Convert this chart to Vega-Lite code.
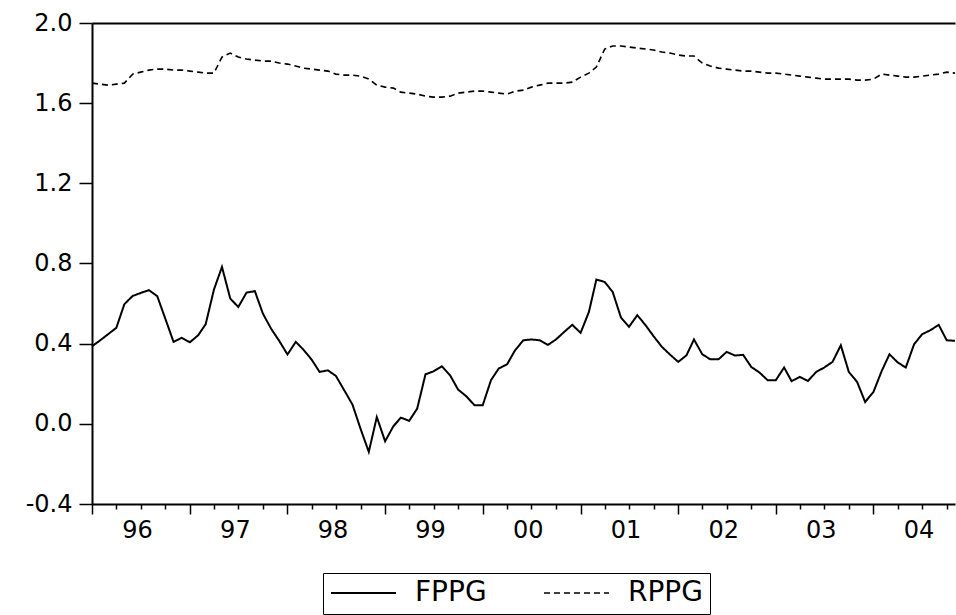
{
  "$schema": "https://vega.github.io/schema/vega-lite/v6.json",
  "autosize": {"type": "none"},
  "padding": {"left": 92, "top": 23, "right": 1, "bottom": 111},
  "width": 863,
  "height": 481,
  "background": "white",
  "config": {"view": {"stroke": null}},
  "data": {"values": [
    {"date": "1996-01", "FPPG": 0.387, "RPPG": 1.70},
    {"date": "1996-02", "FPPG": 0.417, "RPPG": 1.695},
    {"date": "1996-03", "FPPG": 0.447, "RPPG": 1.69},
    {"date": "1996-04", "FPPG": 0.479, "RPPG": 1.695},
    {"date": "1996-05", "FPPG": 0.597, "RPPG": 1.70},
    {"date": "1996-06", "FPPG": 0.638, "RPPG": 1.745},
    {"date": "1996-07", "FPPG": 0.653, "RPPG": 1.755},
    {"date": "1996-08", "FPPG": 0.667, "RPPG": 1.765},
    {"date": "1996-09", "FPPG": 0.637, "RPPG": 1.77},
    {"date": "1996-10", "FPPG": 0.525, "RPPG": 1.77},
    {"date": "1996-11", "FPPG": 0.409, "RPPG": 1.765},
    {"date": "1996-12", "FPPG": 0.429, "RPPG": 1.765},
    {"date": "1997-01", "FPPG": 0.407, "RPPG": 1.76},
    {"date": "1997-02", "FPPG": 0.442, "RPPG": 1.755},
    {"date": "1997-03", "FPPG": 0.497, "RPPG": 1.75},
    {"date": "1997-04", "FPPG": 0.670, "RPPG": 1.75},
    {"date": "1997-05", "FPPG": 0.783, "RPPG": 1.83},
    {"date": "1997-06", "FPPG": 0.625, "RPPG": 1.85},
    {"date": "1997-07", "FPPG": 0.583, "RPPG": 1.83},
    {"date": "1997-08", "FPPG": 0.655, "RPPG": 1.82},
    {"date": "1997-09", "FPPG": 0.662, "RPPG": 1.815},
    {"date": "1997-10", "FPPG": 0.550, "RPPG": 1.81},
    {"date": "1997-11", "FPPG": 0.474, "RPPG": 1.81},
    {"date": "1997-12", "FPPG": 0.414, "RPPG": 1.80},
    {"date": "1998-01", "FPPG": 0.346, "RPPG": 1.795},
    {"date": "1998-02", "FPPG": 0.409, "RPPG": 1.785},
    {"date": "1998-03", "FPPG": 0.371, "RPPG": 1.775},
    {"date": "1998-04", "FPPG": 0.321, "RPPG": 1.77},
    {"date": "1998-05", "FPPG": 0.259, "RPPG": 1.765},
    {"date": "1998-06", "FPPG": 0.267, "RPPG": 1.76},
    {"date": "1998-07", "FPPG": 0.239, "RPPG": 1.745},
    {"date": "1998-08", "FPPG": 0.168, "RPPG": 1.74},
    {"date": "1998-09", "FPPG": 0.096, "RPPG": 1.74},
    {"date": "1998-10", "FPPG": -0.024, "RPPG": 1.735},
    {"date": "1998-11", "FPPG": -0.140, "RPPG": 1.72},
    {"date": "1998-12", "FPPG": 0.034, "RPPG": 1.69},
    {"date": "1999-01", "FPPG": -0.087, "RPPG": 1.68},
    {"date": "1999-02", "FPPG": -0.012, "RPPG": 1.675},
    {"date": "1999-03", "FPPG": 0.031, "RPPG": 1.655},
    {"date": "1999-04", "FPPG": 0.015, "RPPG": 1.65},
    {"date": "1999-05", "FPPG": 0.076, "RPPG": 1.645},
    {"date": "1999-06", "FPPG": 0.247, "RPPG": 1.635},
    {"date": "1999-07", "FPPG": 0.262, "RPPG": 1.63},
    {"date": "1999-08", "FPPG": 0.287, "RPPG": 1.63},
    {"date": "1999-09", "FPPG": 0.242, "RPPG": 1.635},
    {"date": "1999-10", "FPPG": 0.171, "RPPG": 1.65},
    {"date": "1999-11", "FPPG": 0.137, "RPPG": 1.655},
    {"date": "1999-12", "FPPG": 0.093, "RPPG": 1.66},
    {"date": "2000-01", "FPPG": 0.093, "RPPG": 1.66},
    {"date": "2000-02", "FPPG": 0.218, "RPPG": 1.655},
    {"date": "2000-03", "FPPG": 0.276, "RPPG": 1.65},
    {"date": "2000-04", "FPPG": 0.297, "RPPG": 1.645},
    {"date": "2000-05", "FPPG": 0.367, "RPPG": 1.66},
    {"date": "2000-06", "FPPG": 0.417, "RPPG": 1.665},
    {"date": "2000-07", "FPPG": 0.421, "RPPG": 1.68},
    {"date": "2000-08", "FPPG": 0.417, "RPPG": 1.69},
    {"date": "2000-09", "FPPG": 0.394, "RPPG": 1.70},
    {"date": "2000-10", "FPPG": 0.421, "RPPG": 1.70},
    {"date": "2000-11", "FPPG": 0.459, "RPPG": 1.70},
    {"date": "2000-12", "FPPG": 0.494, "RPPG": 1.705},
    {"date": "2001-01", "FPPG": 0.454, "RPPG": 1.73},
    {"date": "2001-02", "FPPG": 0.558, "RPPG": 1.75},
    {"date": "2001-03", "FPPG": 0.720, "RPPG": 1.78},
    {"date": "2001-04", "FPPG": 0.708, "RPPG": 1.87},
    {"date": "2001-05", "FPPG": 0.658, "RPPG": 1.885},
    {"date": "2001-06", "FPPG": 0.530, "RPPG": 1.885},
    {"date": "2001-07", "FPPG": 0.484, "RPPG": 1.88},
    {"date": "2001-08", "FPPG": 0.542, "RPPG": 1.875},
    {"date": "2001-09", "FPPG": 0.492, "RPPG": 1.87},
    {"date": "2001-10", "FPPG": 0.437, "RPPG": 1.865},
    {"date": "2001-11", "FPPG": 0.384, "RPPG": 1.855},
    {"date": "2001-12", "FPPG": 0.346, "RPPG": 1.85},
    {"date": "2002-01", "FPPG": 0.309, "RPPG": 1.84},
    {"date": "2002-02", "FPPG": 0.342, "RPPG": 1.835},
    {"date": "2002-03", "FPPG": 0.421, "RPPG": 1.835},
    {"date": "2002-04", "FPPG": 0.347, "RPPG": 1.80},
    {"date": "2002-05", "FPPG": 0.322, "RPPG": 1.785},
    {"date": "2002-06", "FPPG": 0.322, "RPPG": 1.775},
    {"date": "2002-07", "FPPG": 0.359, "RPPG": 1.77},
    {"date": "2002-08", "FPPG": 0.341, "RPPG": 1.765},
    {"date": "2002-09", "FPPG": 0.344, "RPPG": 1.76},
    {"date": "2002-10", "FPPG": 0.284, "RPPG": 1.76},
    {"date": "2002-11", "FPPG": 0.256, "RPPG": 1.755},
    {"date": "2002-12", "FPPG": 0.218, "RPPG": 1.75},
    {"date": "2003-01", "FPPG": 0.218, "RPPG": 1.75},
    {"date": "2003-02", "FPPG": 0.281, "RPPG": 1.745},
    {"date": "2003-03", "FPPG": 0.213, "RPPG": 1.74},
    {"date": "2003-04", "FPPG": 0.234, "RPPG": 1.735},
    {"date": "2003-05", "FPPG": 0.214, "RPPG": 1.73},
    {"date": "2003-06", "FPPG": 0.259, "RPPG": 1.725},
    {"date": "2003-07", "FPPG": 0.281, "RPPG": 1.72},
    {"date": "2003-08", "FPPG": 0.309, "RPPG": 1.72},
    {"date": "2003-09", "FPPG": 0.392, "RPPG": 1.72},
    {"date": "2003-10", "FPPG": 0.259, "RPPG": 1.72},
    {"date": "2003-11", "FPPG": 0.209, "RPPG": 1.715},
    {"date": "2003-12", "FPPG": 0.109, "RPPG": 1.715},
    {"date": "2004-01", "FPPG": 0.159, "RPPG": 1.72},
    {"date": "2004-02", "FPPG": 0.264, "RPPG": 1.745},
    {"date": "2004-03", "FPPG": 0.347, "RPPG": 1.74},
    {"date": "2004-04", "FPPG": 0.306, "RPPG": 1.735},
    {"date": "2004-05", "FPPG": 0.281, "RPPG": 1.73},
    {"date": "2004-06", "FPPG": 0.397, "RPPG": 1.73},
    {"date": "2004-07", "FPPG": 0.447, "RPPG": 1.735},
    {"date": "2004-08", "FPPG": 0.467, "RPPG": 1.74},
    {"date": "2004-09", "FPPG": 0.494, "RPPG": 1.745},
    {"date": "2004-10", "FPPG": 0.417, "RPPG": 1.755},
    {"date": "2004-11", "FPPG": 0.414, "RPPG": 1.75}
  ]},
  "transform": [{"fold": ["FPPG", "RPPG"], "as": ["series", "value"]}],
  "layer": [
    {
      "mark": {"type": "line", "color": "black"},
      "encoding": {
        "x": {
          "field": "date", "type": "temporal",
          "scale": {"type": "utc", "nice": false},
          "axis": {
            "orient": "bottom", "title": null, "grid": false,
            "tickCount": {"interval": "month", "step": 3},
            "domainColor": "black", "domainWidth": 2,
            "tickColor": "black", "tickWidth": 1.5,
            "tickSize": {"condition": {"test": "utcmonth(datum.value) === 0", "value": 10}, "value": 5},
            "labelExpr": "utcmonth(datum.value) === 0 ? utcFormat(datum.value, '%y') : ''",
            "labelOffset": 45, "labelPadding": 4, "labelOverlap": false, "labelFlush": false, "labelBound": false,
            "labelFont": "DejaVu Sans", "labelFontSize": 24, "labelColor": "black"
          }
        },
        "y": {
          "field": "value", "type": "quantitative",
          "scale": {"domain": [-0.4, 2.0], "nice": false, "zero": false},
          "axis": {
            "title": null, "grid": false,
            "values": [-0.4, 0, 0.4, 0.8, 1.2, 1.6, 2.0],
            "labelExpr": "replace(format(datum.value, '.1f'), '\u2212', '-')",
            "domainColor": "black", "domainWidth": 2,
            "tickColor": "black", "tickWidth": 1.5, "tickSize": 13,
            "labelPadding": 7, "labelFont": "DejaVu Sans", "labelFontSize": 24, "labelColor": "black"
          }
        },
        "strokeDash": {
          "field": "series", "type": "nominal",
          "scale": {"domain": ["FPPG", "RPPG"], "range": [[1, 0], [6, 4]]},
          "legend": {
            "title": null, "orient": "none", "legendX": 231, "legendY": 550,
            "direction": "horizontal", "strokeColor": "black", "padding": 7,
            "symbolType": "stroke", "symbolSize": 4225, "symbolStrokeWidth": 1.5, "symbolStrokeColor": "black",
            "clipHeight": 26,
            "labelFont": "DejaVu Sans", "labelFontSize": 28, "labelColor": "black",
            "labelOffset": 18, "columnPadding": 56
          }
        },
        "strokeWidth": {
          "field": "series", "type": "nominal",
          "scale": {"domain": ["FPPG", "RPPG"], "range": [2, 1.6]},
          "legend": null
        }
      }
    },
    {
      "mark": {"type": "line", "opacity": 0},
      "encoding": {
        "x": {
          "field": "date", "type": "temporal",
          "axis": {"orient": "top", "title": null, "labels": false, "ticks": false, "grid": false, "domainColor": "black", "domainWidth": 2}
        }
      }
    }
  ],
  "resolve": {"axis": {"x": "independent"}}
}
